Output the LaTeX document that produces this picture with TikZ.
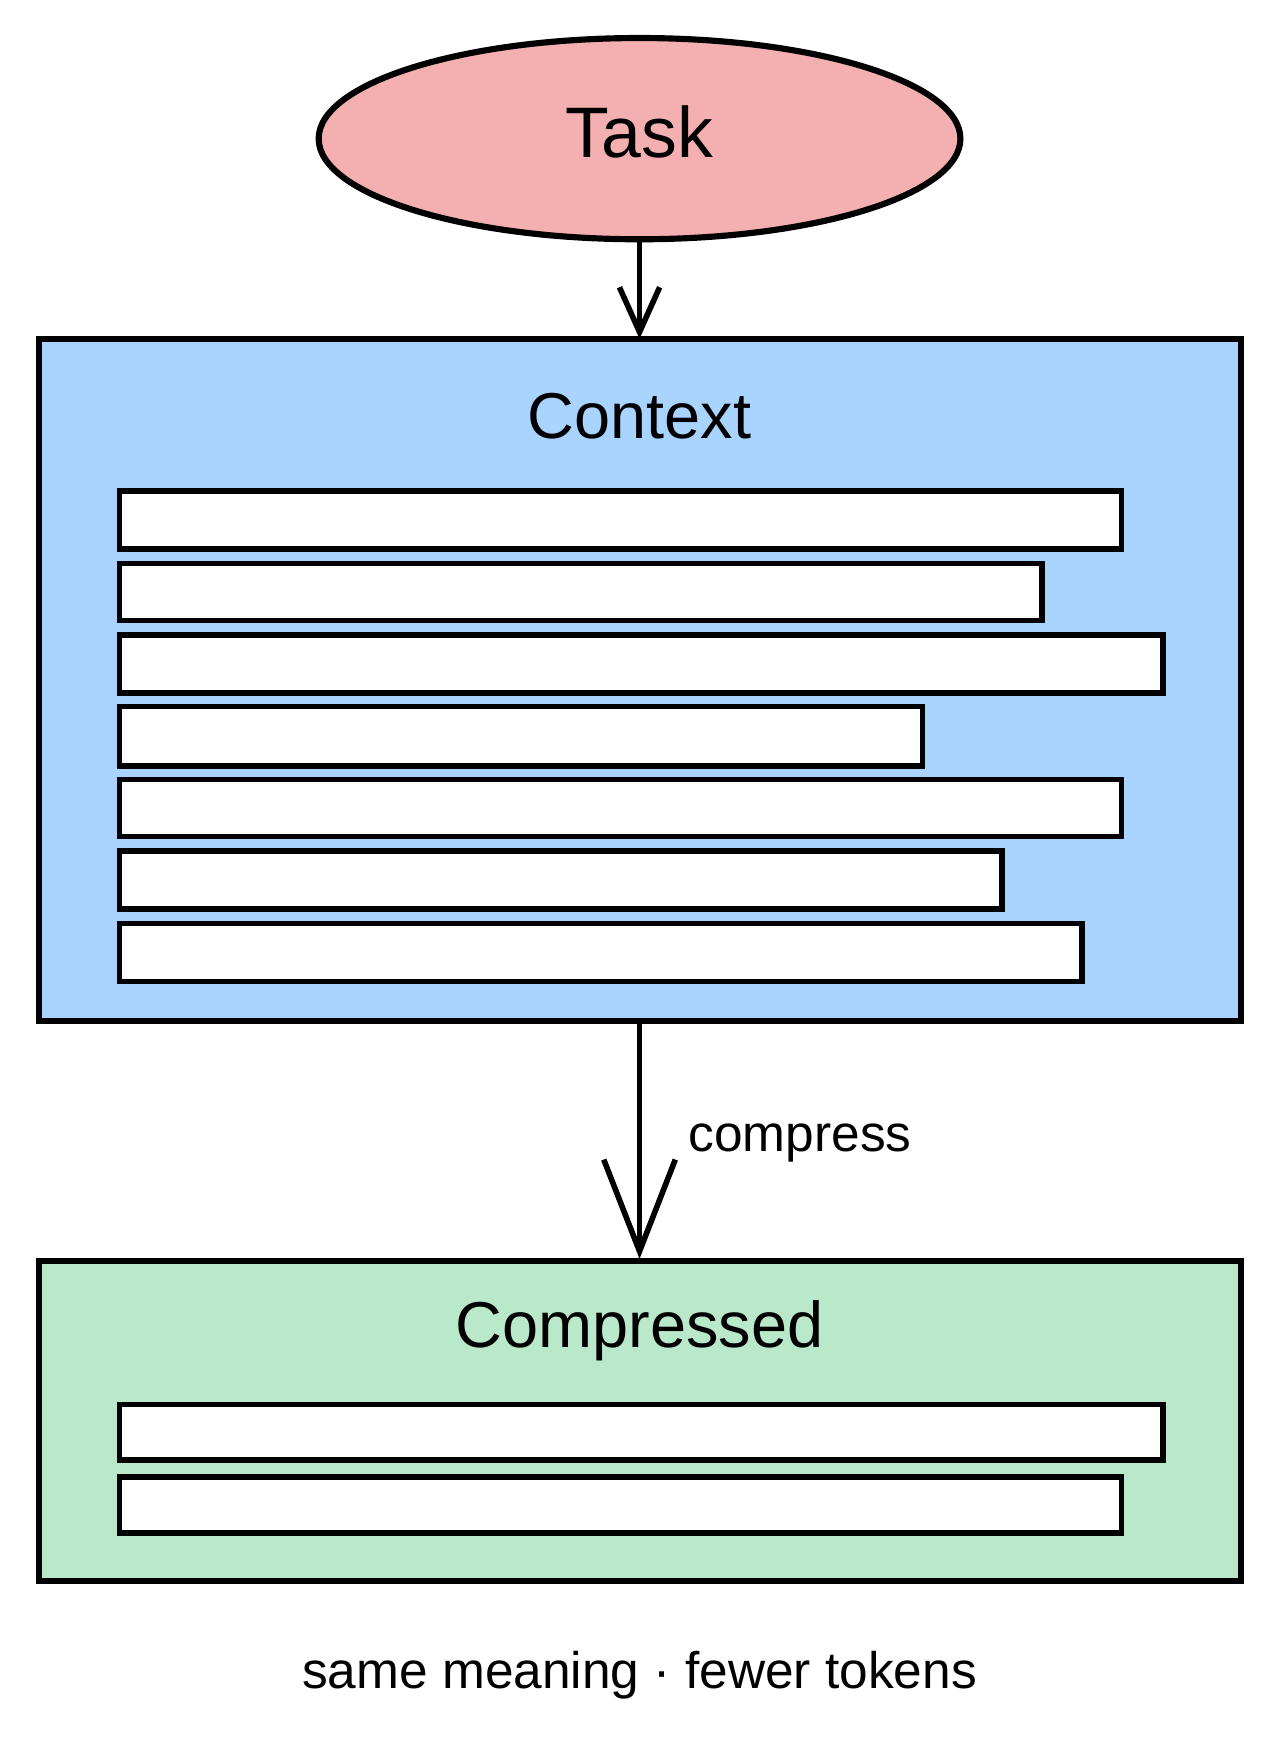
\documentclass[tikz,border=0pt]{standalone}
\usepackage{fontspec}
\setmainfont{Liberation Sans}
\usetikzlibrary{shapes.geometric,arrows.meta}
\definecolor{taskc}{HTML}{F4B0B0}
\definecolor{ctxc}{HTML}{A8D4FF}
\definecolor{cmpc}{HTML}{B9E8CA}
\begin{document}
\begin{tikzpicture}[x=1pt,y=-1pt,line width=5pt,
  bar/.style={draw,fill=white,line width=5pt},
  box/.style={draw,line width=5.5pt},
  conn/.style={line width=5pt}]
\useasboundingbox (0,0) rectangle (1145,1567);
\node[ellipse,draw,line width=5.5pt,fill=taskc,minimum width=574pt,minimum height=180pt,inner sep=0pt] (task) at (572,124) {};
\node (taskt) at (572,118) {\fontsize{64}{64}\selectfont Task};
\draw[box,fill=ctxc] (35,303) rectangle (1110,913);
\coordinate (ctxtop) at (572,303);
\coordinate (ctxbot) at (572,913);
\node (ctxt) at (572,372) {\fontsize{58}{58}\selectfont Context};
\foreach \t/\b/\r [count=\i] in {439/491/1003,504/555/932,568/620/1040,632/685/825,697/748/1003,761/813/896,826/878/968}
  \draw[bar] (107,\t) rectangle (\r,\b);
\draw[box,fill=cmpc] (35,1128) rectangle (1110,1414);
\coordinate (cmptop) at (572,1126);
\node (cmpt) at (572,1190) {\fontsize{58}{58}\selectfont Compressed};
\draw[bar] (107,1256) rectangle (1040,1306);
\draw[bar] (107,1321) rectangle (1003,1371);
\draw[conn,-{Straight Barb[length=40pt,width=36pt,line width=5pt]}] (task.south) -- (ctxtop);
\draw[conn,-{Straight Barb[length=82pt,width=64pt,line width=5pt]}] (ctxbot) -- (cmptop);
\node[anchor=west] (lbl) at (610,1022) {\fontsize{46}{46}\selectfont compress};
\node (foot) at (572,1498) {\fontsize{46}{46}\selectfont same meaning · fewer tokens};
\end{tikzpicture}
\end{document}
